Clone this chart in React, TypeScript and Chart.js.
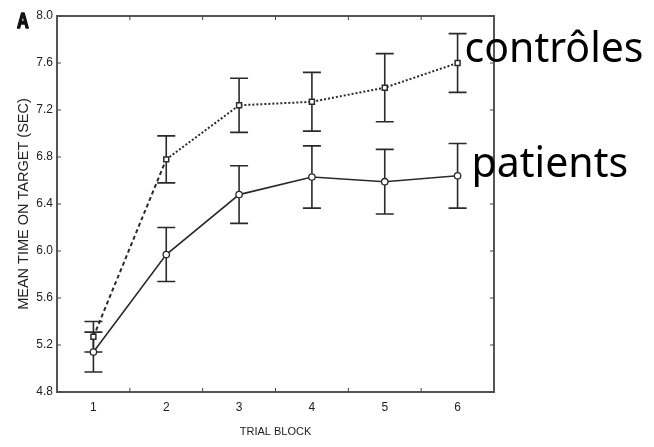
import React, { useEffect, useRef } from 'react';
import { Chart, registerables } from 'chart.js';

Chart.register(...registerables);

const blocks = ['1', '2', '3', '4', '5', '6'];
const controlsMean = [5.27, 6.78, 7.24, 7.27, 7.39, 7.6];
const controlsErr = [0.13, 0.2, 0.23, 0.25, 0.29, 0.25];
const patientsMean = [5.14, 5.97, 6.48, 6.63, 6.59, 6.64];
const patientsErr = [0.17, 0.23, 0.245, 0.265, 0.275, 0.275];
const yTicks = [4.8, 5.2, 5.6, 6.0, 6.4, 6.8, 7.2, 7.6, 8.0];
const seriesLabels = ['contrôles', 'patients'];
const panelLetter = 'A';
const xTitle = 'TRIAL BLOCK';
const yTitle = 'MEAN TIME ON TARGET (SEC)';

const INK = '#2a2a2a';
const SANS = '"Liberation Sans", Arial, sans-serif';

const decor = {
  id: 'decor',
  beforeDatasetsDraw(chart: any) {
    const { ctx, chartArea } = chart;
    const xs = chart.scales.x;
    const ys = chart.scales.y;
    ctx.save();
    ctx.strokeStyle = '#555';
    ctx.lineWidth = 2;
    ctx.strokeRect(chartArea.left, chartArea.top, chartArea.right - chartArea.left, chartArea.bottom - chartArea.top);
    ctx.lineWidth = 1;
    ctx.strokeStyle = '#444';
    yTicks.forEach((v) => {
      const py = ys.getPixelForValue(v);
      ctx.beginPath();
      ctx.moveTo(chartArea.left, py);
      ctx.lineTo(chartArea.left + 4, py);
      ctx.moveTo(chartArea.right, py);
      ctx.lineTo(chartArea.right - 4, py);
      ctx.stroke();
    });
    for (let i = 0; i < blocks.length - 1; i++) {
      const px = (xs.getPixelForValue(i) + xs.getPixelForValue(i + 1)) / 2;
      ctx.beginPath();
      ctx.moveTo(px, chartArea.top);
      ctx.lineTo(px, chartArea.top + 4);
      ctx.moveTo(px, chartArea.bottom);
      ctx.lineTo(px, chartArea.bottom - 4);
      ctx.stroke();
    }
    ctx.strokeStyle = INK;
    ctx.lineWidth = 1.6;
    const groups: [number[], number[]][] = [
      [controlsMean, controlsErr],
      [patientsMean, patientsErr],
    ];
    groups.forEach(([m, e]) => {
      m.forEach((v, i) => {
        const px = xs.getPixelForValue(i);
        const t = ys.getPixelForValue(v + e[i]);
        const b = ys.getPixelForValue(v - e[i]);
        ctx.beginPath();
        ctx.moveTo(px, t);
        ctx.lineTo(px, b);
        ctx.moveTo(px - 9, t);
        ctx.lineTo(px + 9, t);
        ctx.moveTo(px - 9, b);
        ctx.lineTo(px + 9, b);
        ctx.stroke();
      });
    });
    ctx.restore();
  },
  afterDraw(chart: any) {
    const { ctx } = chart;
    const xs = chart.scales.x;
    const ys = chart.scales.y;
    const last = blocks.length - 1;
    ctx.save();
    ctx.fillStyle = '#000';
    ctx.textBaseline = 'alphabetic';
    ctx.textAlign = 'left';
    ctx.font = '41px "Noto Sans"';
    ctx.fillText(seriesLabels[0], xs.getPixelForValue(last) + 7, ys.getPixelForValue(controlsMean[last]) - 1);
    ctx.fillText(seriesLabels[1], xs.getPixelForValue(last) + 14, ys.getPixelForValue(patientsMean[last]) + 1);
    ctx.save();
    ctx.translate(17, 28);
    ctx.scale(0.74, 1.0);
    ctx.font = 'bold 22px "Liberation Sans"';
    ctx.fillStyle = '#111';
    ctx.fillText(panelLetter, 0, 0);
    ctx.lineWidth = 1.6;
    ctx.lineJoin = 'round';
    ctx.strokeStyle = '#111';
    ctx.strokeText(panelLetter, 0, 0);
    ctx.restore();
    ctx.restore();
  },
};

export default function App() {
  const ref = useRef<HTMLCanvasElement | null>(null);
  useEffect(() => {
    if (!ref.current) return;
    const chart = new Chart(ref.current, {
      type: 'line',
      data: {
        labels: blocks,
        datasets: [
          {
            label: seriesLabels[0],
            data: controlsMean,
            borderColor: INK,
            borderWidth: 2,
            borderDash: [2, 2],
            segment: {
              borderDash: (c: any) => (c.p0DataIndex === 0 ? [4, 3] : [2, 2]),
            },
            pointStyle: 'rect',
            pointRadius: 3.5,
            pointBackgroundColor: '#fff',
            pointBorderColor: INK,
            pointBorderWidth: 1.5,
            tension: 0,
            fill: false,
          },
          {
            label: seriesLabels[1],
            data: patientsMean,
            borderColor: INK,
            borderWidth: 1.6,
            pointStyle: 'circle',
            pointRadius: 3.2,
            pointBackgroundColor: '#fff',
            pointBorderColor: INK,
            pointBorderWidth: 1.3,
            tension: 0,
            fill: false,
          },
        ],
      },
      options: {
        animation: false,
        responsive: false,
        devicePixelRatio: 1,
        layout: { padding: { top: 16, right: 160, left: 0, bottom: 0 } },
        plugins: { legend: { display: false }, tooltip: { enabled: false } },
        scales: {
          x: {
            type: 'category',
            offset: true,
            grid: { display: false, drawTicks: false },
            border: { display: false },
            ticks: {
              color: '#222',
              padding: 8,
              font: { size: 12, family: SANS },
            },
            title: {
              display: true,
              text: xTitle,
              color: '#222',
              font: { size: 11, family: SANS },
              padding: { top: 0, bottom: 8 },
            },
            afterFit: (s: any) => {
              s.height = 55;
            },
          },
          y: {
            min: 4.8,
            max: 8.0,
            grid: { display: false, drawTicks: false },
            border: { display: false },
            afterBuildTicks: (s: any) => {
              s.ticks = yTicks.map((v) => ({ value: v }));
            },
            ticks: {
              color: '#222',
              padding: 4,
              font: { size: 12, family: SANS },
              callback: (v: any) => Number(v).toFixed(1),
            },
            title: {
              display: true,
              text: yTitle,
              color: '#222',
              font: { size: 14.5, family: SANS },
              padding: { top: 15, bottom: 0 },
            },
            afterFit: (s: any) => {
              s.width = 57;
            },
          },
        },
      },
      plugins: [decor],
    });
    return () => chart.destroy();
  }, []);
  return (
    <div style={{ position: 'fixed', left: 0, top: 0, width: 654, height: 447, background: '#fff' }}>
      <canvas ref={ref} width={654} height={447} style={{ width: 654, height: 447, display: 'block' }} />
    </div>
  );
}
